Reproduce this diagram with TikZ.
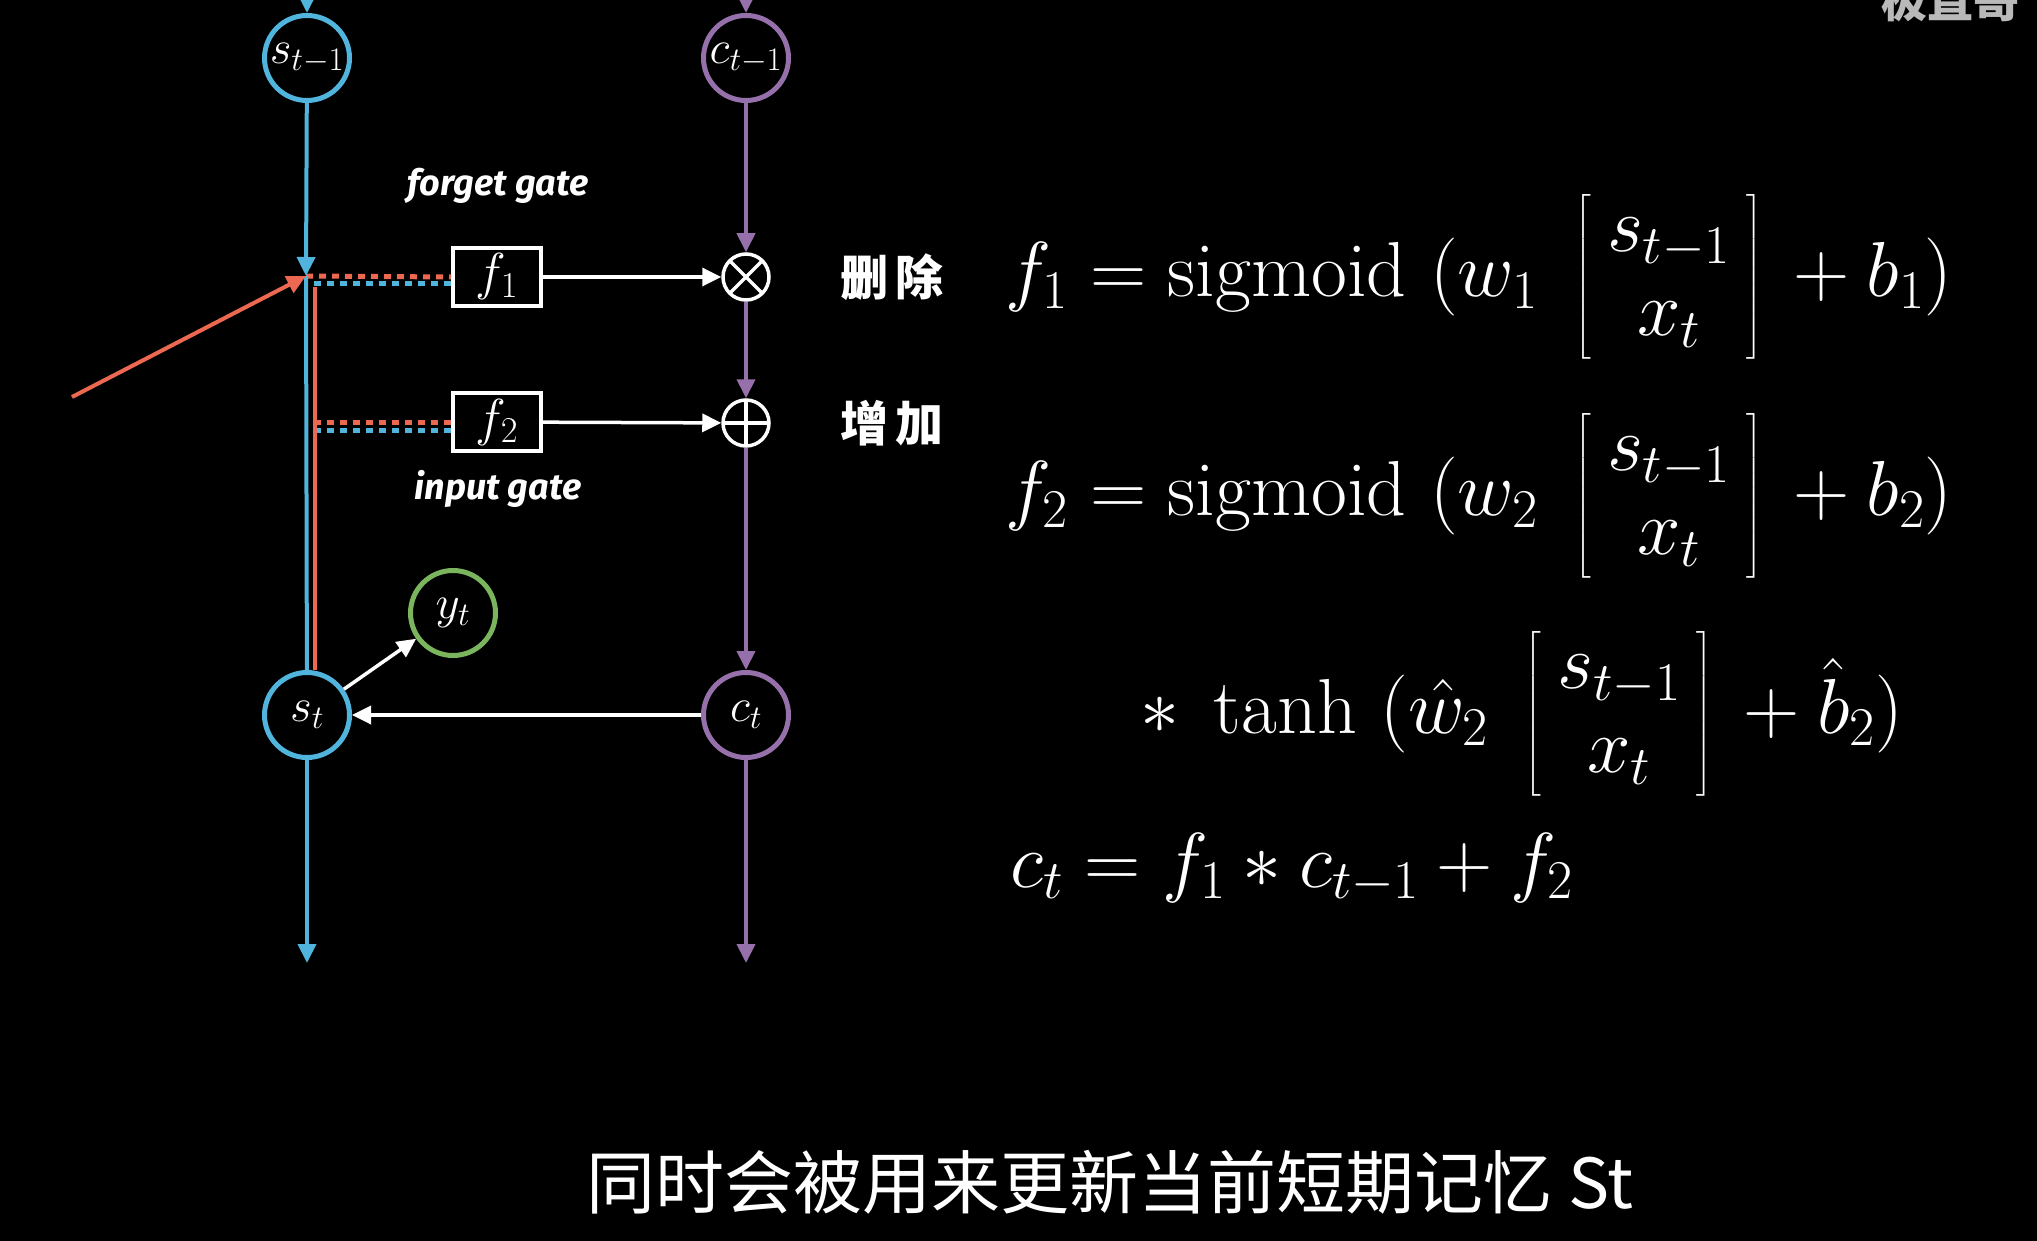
\RequirePackage{fix-cm}
\documentclass[tikz,border=0pt]{standalone}
\usepackage{amsmath}
\usepackage{fontspec}
\usetikzlibrary{arrows.meta}
\newfontfamily\cjk{Noto Sans CJK SC}
\newfontfamily\handfont{Fira Sans}
\definecolor{sblue}{RGB}{80,180,220}
\definecolor{cpurple}{RGB}{150,112,170}
\definecolor{ygreen}{RGB}{122,180,92}
\definecolor{xred}{RGB}{236,104,80}
\definecolor{wmgray}{RGB}{185,185,185}
\newcommand{\inputvec}{\left[\begin{array}{c} s_{t-1}\\ x_t \end{array}\right]}
\begin{document}
\begin{tikzpicture}[x=1pt, y=-1pt,
    >={Triangle[length=19pt,width=18pt]},
    state/.style={circle, line width=5pt, minimum size=85pt, inner sep=0pt,
        text=white, font=\fontsize{47}{54}\selectfont},
    gatebox/.style={draw=white, line width=4pt, minimum width=88pt,
        minimum height=58pt, inner sep=0pt, text=white,
        font=\fontsize{52}{58}\selectfont},
    opnode/.style={circle, draw=white, line width=3.5pt, minimum size=46pt,
        inner sep=0pt},
    gatelabel/.style={text=white, font=\handfont\bfseries\itshape\fontsize{36}{42}\selectfont},
    cnlabel/.style={text=white, font=\cjk\bfseries\fontsize{48}{56}\selectfont},
    eqn/.style={text=white, inner sep=0pt,
        font=\fontsize{78}{84}\selectfont\setlength{\arraycolsep}{16pt}},
    bluedot/.style={sblue, line width=5pt, dash pattern=on 7pt off 6pt},
    reddot/.style={xred, line width=5pt, dash pattern=on 7pt off 6pt},
    flow/.style={->, white, line width=3.5pt}
]
    % 背景
    \clip (0,0) rectangle (2037,1241);
    \fill[black] (0,0) rectangle (2037,1241);

    % 状态节点
    \node[state, draw=sblue] (stm1) at (307,58) {$s_{t-1}$};
    \node[state, draw=cpurple] (ctm1) at (746,58) {$c_{t-1}$};
    \node[state, draw=sblue] (st) at (307,715) {$s_t$};
    \node[state, draw=cpurple] (ct) at (746,715) {$c_t$};
    \node[state, draw=ygreen] (yt) at (453,613) {$y_t$};

    % 门
    \node[gatebox] (f1) at (497,277) {$f_1$};
    \node[gatebox] (f2) at (497,422) {$f_2$};
    \node[opnode, path picture={
        \draw[white, line width=3.5pt]
            (path picture bounding box.north west) -- (path picture bounding box.south east)
            (path picture bounding box.north east) -- (path picture bounding box.south west);
        }] (mul) at (746,277) {};
    \node[opnode, path picture={
        \draw[white, line width=3.5pt]
            (path picture bounding box.north) -- (path picture bounding box.south)
            (path picture bounding box.west) -- (path picture bounding box.east);
        }] (add) at (746,423) {};

    \node[gatelabel] (fglab) at (498,186) {forget gate};
    \node[gatelabel] (iglab) at (498,489) {input gate};
    \node[cnlabel] (del) at (892,277) {删\hspace{8pt}除};
    \node[cnlabel] (inc) at (892,423) {增\hspace{8pt}加};

    % 端点
    \coordinate (jn) at (306,276);
    \coordinate (rtop) at (315,287);
    \coordinate (xin) at (72,397);
    \coordinate (sin) at (307,-20);
    \coordinate (cin) at (746,-20);
    \coordinate (sout) at (307,963);
    \coordinate (cout) at (746,963);

    % 虚线
    \draw[reddot] (jn) -- (f1.west);
    \draw[bluedot] ([yshift=-7pt]f1.west) -- ([yshift=-7pt]f1.west -| jn);
    \draw[reddot] (f2.west) -- (f2.west -| rtop);
    \draw[bluedot] ([yshift=-8pt]f2.west) -- ([yshift=-8pt]f2.west -| rtop);

    % 短期记忆
    \draw[->, sblue, line width=4pt] (sin) -- (stm1);
    \draw[->, sblue, line width=4pt] (stm1) -- (jn);
    \draw[sblue, line width=4pt] (jn) -- (st);
    \draw[xred, line width=4pt] (rtop) -- (rtop |- st.north);
    \draw[->, xred, line width=4pt] (xin) -- (jn);
    \draw[->, sblue, line width=4pt] (st) -- (sout);

    % 长期记忆
    \draw[->, cpurple, line width=4pt] (cin) -- (ctm1);
    \draw[->, cpurple, line width=4pt] (ctm1) -- (mul);
    \draw[->, cpurple, line width=4pt] (mul) -- (add);
    \draw[->, cpurple, line width=4pt] (add) -- (ct);
    \draw[->, cpurple, line width=4pt] (ct) -- (cout);

    % 白色箭头
    \draw[flow] (f1) -- (mul);
    \draw[flow] (f2) -- (add);
    \draw[flow] (ct) -- (st);
    \draw[flow] (st) -- (yt);

    % 公式
    \node[eqn, anchor=west] (eq1) at (1005,277)
        {$f_1 = \mathrm{sigmoid}\ (w_1\ \inputvec\, + b_1)$};
    \node[eqn, anchor=west] (eq2) at (1005,496)
        {$f_2 = \mathrm{sigmoid}\ (w_2\ \inputvec\, + b_2)$};
    \node[eqn, anchor=west] (eq3) at (1140,714)
        {${*}\;\tanh\ (\hat{w}_2\ \inputvec\, + \hat{b}_2)$};
    \node[eqn, anchor=base west] (eq4) at (1010,887)
        {$c_t = f_1 * c_{t-1} + f_2$};

    % 字幕
    \node[text=white, font=\cjk\fontsize{69}{78}\selectfont] (sub) at (1110,1182)
        {同时会被用来更新当前短期记忆 St};
    \node[anchor=south east, inner sep=0pt, text=wmgray,
        font=\cjk\bfseries\fontsize{46}{52}\selectfont] (wm) at (2020,22) {极直哥};
\end{tikzpicture}
\end{document}
